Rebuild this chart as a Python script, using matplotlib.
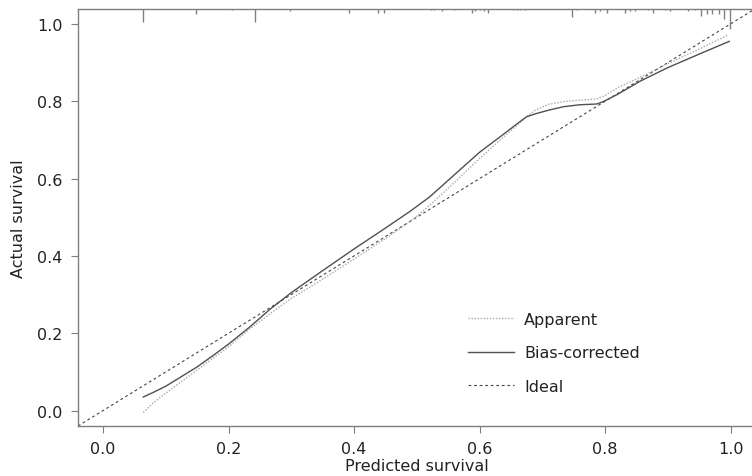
import matplotlib
matplotlib.use("Agg")
import matplotlib.pyplot as plt
import numpy as np

# calibration curves
bias_x = [0.064, 0.08, 0.10, 0.125, 0.15, 0.175, 0.20, 0.233, 0.266, 0.30, 0.35, 0.40, 0.45,
          0.489, 0.52, 0.56, 0.60, 0.64, 0.66, 0.675, 0.69, 0.71, 0.734, 0.76, 0.787, 0.797,
          0.82, 0.856, 0.90, 0.95, 0.998]
bias_y = [0.035, 0.047, 0.063, 0.088, 0.113, 0.142, 0.172, 0.215, 0.262, 0.305, 0.362, 0.418, 0.472,
          0.515, 0.552, 0.61, 0.668, 0.717, 0.742, 0.760, 0.768, 0.777, 0.786, 0.791, 0.793, 0.799,
          0.818, 0.852, 0.887, 0.922, 0.955]

app_x = [0.064, 0.08, 0.10, 0.125, 0.15, 0.175, 0.20, 0.233, 0.27, 0.30, 0.35, 0.40, 0.45,
         0.49, 0.52, 0.56, 0.60, 0.64, 0.66, 0.675, 0.69, 0.71, 0.734, 0.76, 0.787, 0.80,
         0.82, 0.856, 0.90, 0.95, 0.997]
app_y = [-0.005, 0.02, 0.045, 0.075, 0.105, 0.135, 0.165, 0.21, 0.255, 0.29, 0.34, 0.392, 0.445,
         0.49, 0.53, 0.59, 0.652, 0.71, 0.738, 0.76, 0.778, 0.792, 0.799, 0.803, 0.806, 0.815,
         0.835, 0.862, 0.897, 0.935, 0.972]

# distribution of predictions (rug at top): position, relative count
rug_x = [0.064, 0.148, 0.205, 0.242, 0.298, 0.392, 0.438, 0.447, 0.523, 0.528, 0.540, 0.560,
         0.588, 0.593, 0.601, 0.607, 0.614, 0.654, 0.659, 0.665, 0.672, 0.747, 0.755, 0.784,
         0.792, 0.803, 0.832, 0.840, 0.848, 0.869, 0.877, 0.896, 0.904, 0.933, 0.943, 0.953,
         0.962, 0.971, 0.981, 0.989, 0.999]
rug_n = [9, 4, 1, 9, 2, 3, 3, 3, 1, 1, 2, 1,
         3, 2, 1, 2, 3, 1, 1, 1, 1, 6, 1, 3,
         2, 3, 3, 2, 2, 1, 3, 1, 2, 2, 1, 5,
         4, 4, 4, 7, 14]

ticks = [0.0, 0.2, 0.4, 0.6, 0.8, 1.0]
lo, hi = -0.04, 1.04

plt.rcParams['font.family'] = ['DejaVu Sans']
spine_c = '#7f7f7f'
text_c = '#222222'

fig = plt.figure(figsize=(7.52, 4.77), dpi=100)
ax = fig.add_axes([78/752, 50/477, (755.6-78)/752, (427-9.5)/477])

ax.plot([lo, hi], [lo, hi], color='#444444', lw=0.8, ls=(0, (2.5, 2.5)), label='Ideal', zorder=2)
ax.plot(app_x, app_y, color='#a8a8a8', lw=1.0, ls=(0, (1, 1.2)), label='Apparent', zorder=3)
ax.plot(bias_x, bias_y, color='#505050', lw=1.0, label='Bias-corrected', zorder=4)

unit = 1.5 / 387
ax.vlines(rug_x, hi - np.array(rug_n) * unit, hi, color='#808080', lw=1.0)

ax.set_xlim(lo, hi)
ax.set_ylim(lo, hi)
ax.set_xticks(ticks)
ax.set_yticks(ticks)
ax.set_xticklabels(['%.1f' % t for t in ticks])
ax.set_yticklabels(['%.1f' % t for t in ticks])
ax.tick_params(colors=spine_c, labelcolor=text_c, labelsize=11.5, length=5, width=0.8, pad=6)
for s in ax.spines.values():
    s.set_color(spine_c)
    s.set_linewidth(1.0)

ax.set_xlabel('Predicted survival', fontsize=11.5, color=text_c, labelpad=1)
ax.set_ylabel('Actual survival', fontsize=11.5, color=text_c, labelpad=8)

h, l = ax.get_legend_handles_labels()
order = [1, 2, 0]
ax.legend([h[i] for i in order], [l[i] for i in order], loc='upper left',
          bbox_to_anchor=((468-78)/677.6, (427-313)/417.5), frameon=False,
          fontsize=11.5, handlelength=2.9, handletextpad=0.6, labelspacing=1.15,
          borderpad=0, borderaxespad=0, labelcolor=text_c)

fig.savefig('out.png', dpi=100)
